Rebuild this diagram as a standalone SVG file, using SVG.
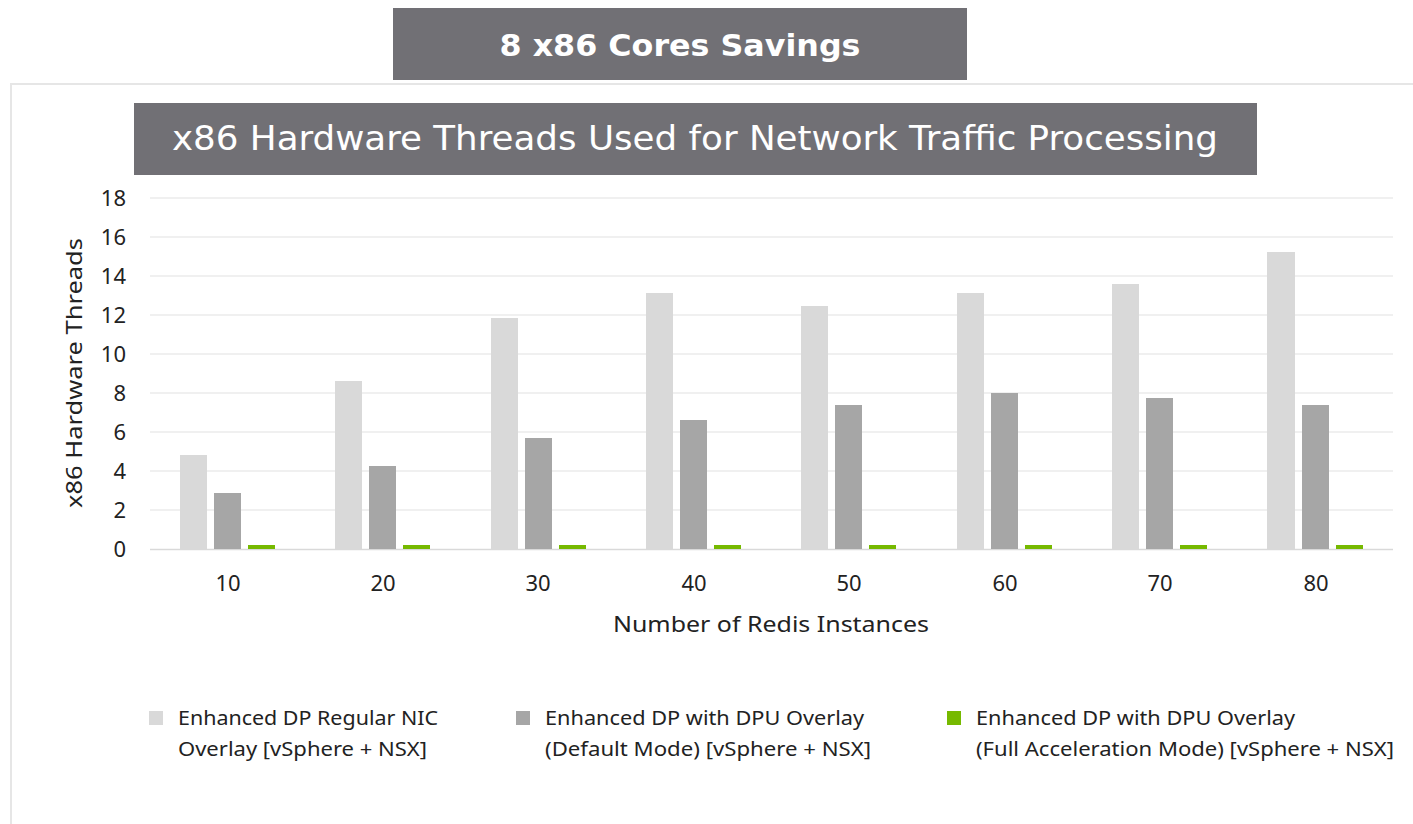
<svg xmlns="http://www.w3.org/2000/svg" width="1413" height="824" viewBox="0 0 1413 824">
<style>
.grid{stroke:#ebebeb;stroke-width:1.5}
.tick{font-family:"Noto Sans","Liberation Sans",sans-serif;font-size:22px;fill:#222}
.leg{font-family:"Noto Sans","Liberation Sans",sans-serif;font-size:19.5px;fill:#222}
.l{fill:#d9d9d9}
.d{fill:#a6a6a6}
.g{fill:#76b900}
.banner{fill:#717075}
</style>
<rect x="0" y="0" width="1413" height="824" fill="#fff"/>
<g id="frame">
<rect x="11" y="84" width="1420" height="760" fill="#fff" stroke="#e6e6e6" stroke-width="2"/>
</g>
<g id="title-savings">
<rect class="banner" x="393" y="8" width="574" height="72"/>
<text x="680" y="56" text-anchor="middle" font-family="DejaVu Sans, sans-serif" font-weight="bold" font-size="31" fill="#fff" textLength="361" lengthAdjust="spacingAndGlyphs">8 x86 Cores Savings</text>
</g>
<g id="title-chart">
<rect class="banner" x="134" y="103" width="1123" height="72"/>
<text x="695" y="150" text-anchor="middle" font-family="DejaVu Sans, sans-serif" font-size="33" fill="#fff" textLength="1046" lengthAdjust="spacingAndGlyphs">x86 Hardware Threads Used for Network Traffic Processing</text>
</g>
<g id="grid">
<line class="grid" x1="150" y1="198" x2="1393" y2="198"/>
<line class="grid" x1="150" y1="237" x2="1393" y2="237"/>
<line class="grid" x1="150" y1="276" x2="1393" y2="276"/>
<line class="grid" x1="150" y1="315" x2="1393" y2="315"/>
<line class="grid" x1="150" y1="354" x2="1393" y2="354"/>
<line class="grid" x1="150" y1="393" x2="1393" y2="393"/>
<line class="grid" x1="150" y1="432" x2="1393" y2="432"/>
<line class="grid" x1="150" y1="471" x2="1393" y2="471"/>
<line class="grid" x1="150" y1="510" x2="1393" y2="510"/>
<line x1="150" y1="549.5" x2="1393" y2="549.5" stroke="#d9d9d9" stroke-width="1.5"/>
</g>
<g id="y-axis" class="tick" text-anchor="end">
<text x="126" y="206">18</text>
<text x="126" y="245">16</text>
<text x="126" y="284">14</text>
<text x="126" y="323">12</text>
<text x="126" y="362">10</text>
<text x="126" y="401">8</text>
<text x="126" y="440">6</text>
<text x="126" y="479">4</text>
<text x="126" y="518">2</text>
<text x="126" y="557">0</text>
<text transform="translate(82,373) rotate(-90)" text-anchor="middle" textLength="270" lengthAdjust="spacingAndGlyphs">x86 Hardware Threads</text>
</g>
<g id="bars">
<rect class="l" x="180" y="455" width="27" height="94"/>
<rect class="d" x="214" y="493" width="27" height="56"/>
<rect class="g" x="248" y="545" width="27" height="4"/>
<rect class="l" x="335" y="381" width="27" height="168"/>
<rect class="d" x="369" y="466" width="27" height="83"/>
<rect class="g" x="403" y="545" width="27" height="4"/>
<rect class="l" x="491" y="318" width="27" height="231"/>
<rect class="d" x="525" y="438" width="27" height="111"/>
<rect class="g" x="559" y="545" width="27" height="4"/>
<rect class="l" x="646" y="293" width="27" height="256"/>
<rect class="d" x="680" y="420" width="27" height="129"/>
<rect class="g" x="714" y="545" width="27" height="4"/>
<rect class="l" x="801" y="306" width="27" height="243"/>
<rect class="d" x="835" y="405" width="27" height="144"/>
<rect class="g" x="869" y="545" width="27" height="4"/>
<rect class="l" x="957" y="293" width="27" height="256"/>
<rect class="d" x="991" y="393" width="27" height="156"/>
<rect class="g" x="1025" y="545" width="27" height="4"/>
<rect class="l" x="1112" y="284" width="27" height="265"/>
<rect class="d" x="1146" y="398" width="27" height="151"/>
<rect class="g" x="1180" y="545" width="27" height="4"/>
<rect class="l" x="1267" y="252" width="28" height="297"/>
<rect class="d" x="1302" y="405" width="27" height="144"/>
<rect class="g" x="1336" y="545" width="27" height="4"/>
</g>
<g id="x-axis" class="tick" text-anchor="middle">
<text x="228" y="591">10</text>
<text x="383" y="591">20</text>
<text x="538" y="591">30</text>
<text x="694" y="591">40</text>
<text x="849" y="591">50</text>
<text x="1005" y="591">60</text>
<text x="1160" y="591">70</text>
<text x="1316" y="591">80</text>
<text x="771" y="632" textLength="316" lengthAdjust="spacingAndGlyphs">Number of Redis Instances</text>
</g>
<g id="legend" class="leg">
<rect class="l" x="149" y="711" width="14" height="14"/>
<text x="178" y="725" textLength="260" lengthAdjust="spacingAndGlyphs">Enhanced DP Regular NIC</text>
<text x="178" y="756" textLength="249" lengthAdjust="spacingAndGlyphs">Overlay [vSphere + NSX]</text>
<rect class="d" x="516" y="711" width="14" height="14"/>
<text x="545" y="725" textLength="319" lengthAdjust="spacingAndGlyphs">Enhanced DP with DPU Overlay</text>
<text x="545" y="756" textLength="326" lengthAdjust="spacingAndGlyphs">(Default Mode) [vSphere + NSX]</text>
<rect class="g" x="947" y="711" width="14" height="14"/>
<text x="976" y="725" textLength="319" lengthAdjust="spacingAndGlyphs">Enhanced DP with DPU Overlay</text>
<text x="976" y="756" textLength="418" lengthAdjust="spacingAndGlyphs">(Full Acceleration Mode) [vSphere + NSX]</text>
</g>
</svg>
